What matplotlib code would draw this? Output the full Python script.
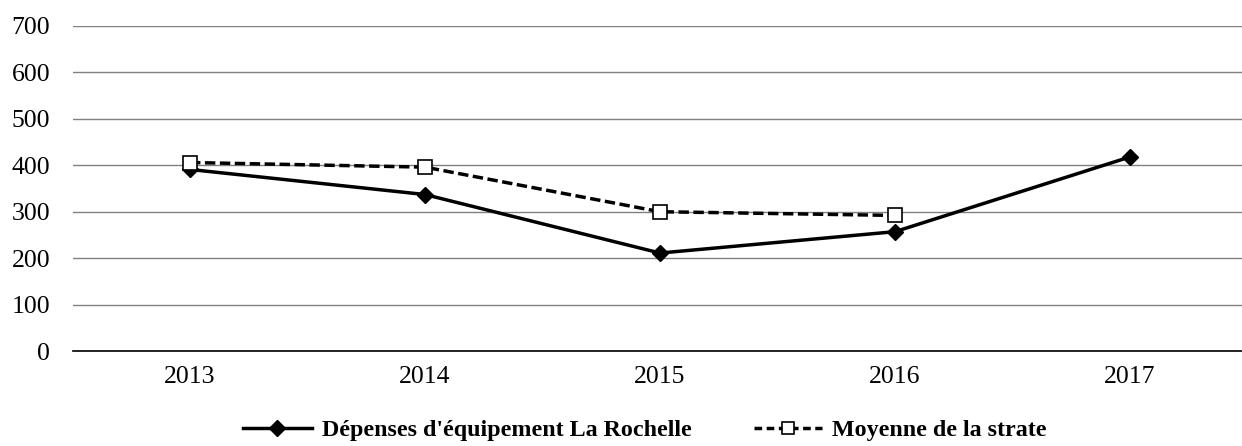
import matplotlib
matplotlib.use("Agg")
import matplotlib.pyplot as plt
from matplotlib.lines import Line2D

years = ["2013", "2014", "2015", "2016", "2017"]
depenses = [391, 337, 211, 257, 418]
moyenne_years = ["2013", "2014", "2015", "2016"]
moyenne = [406, 396, 300, 292]
yticks = [0, 100, 200, 300, 400, 500, 600, 700]
label1 = "Dépenses d'équipement La Rochelle"
label2 = "Moyenne de la strate"

plt.rcParams['font.family'] = ['Liberation Serif', 'DejaVu Serif']

fig = plt.figure(figsize=(12.42, 4.46), dpi=100)
ax = fig.add_axes([72.5/1242, 1-351/446, 1175/1242, 325/446])

x1 = [years.index(y) for y in years]
x2 = [years.index(y) for y in moyenne_years]
ax.plot(x1, depenses, color='black', lw=2.5, marker='D', markersize=8,
        markerfacecolor='black', markeredgecolor='black', zorder=3)
ax.plot(x2, moyenne, color='black', lw=2.5, ls=(0, (3, 1.3)), marker='s', markersize=10,
        markerfacecolor='white', markeredgecolor='black', markeredgewidth=1.2, zorder=4)

ax.set_xlim(-0.5, 4.5)
ax.set_ylim(0, 700)
ax.set_yticks(yticks)
ax.set_xticks(range(len(years)))
ax.set_xticklabels(years)
ax.grid(axis='y', color='#808080', lw=1)
ax.set_axisbelow(True)
for s in ['top', 'right', 'left']:
    ax.spines[s].set_visible(False)
ax.spines['bottom'].set_color('black')
ax.spines['bottom'].set_linewidth(1.2)
ax.tick_params(axis='both', length=0, labelsize=18.5)
ax.tick_params(axis='y', pad=16)
ax.tick_params(axis='x', pad=11)

h1 = Line2D([], [], color='black', lw=2.5, marker='D', markersize=8)
h2 = Line2D([], [], color='black', lw=2.5, ls=(0, (2.2, 1.3)), marker='s', markersize=8,
            markerfacecolor='white', markeredgewidth=1.2)
fig.legend([h1, h2], [label1, label2], loc='center', bbox_to_anchor=(645/1242, 1-430/446),
           ncol=2, frameon=False, prop={'weight': 'bold', 'size': 17.3},
           handlelength=2.85, handletextpad=0.42, columnspacing=2.6,
           borderaxespad=0, borderpad=0)

fig.savefig("out.png", dpi=100)
